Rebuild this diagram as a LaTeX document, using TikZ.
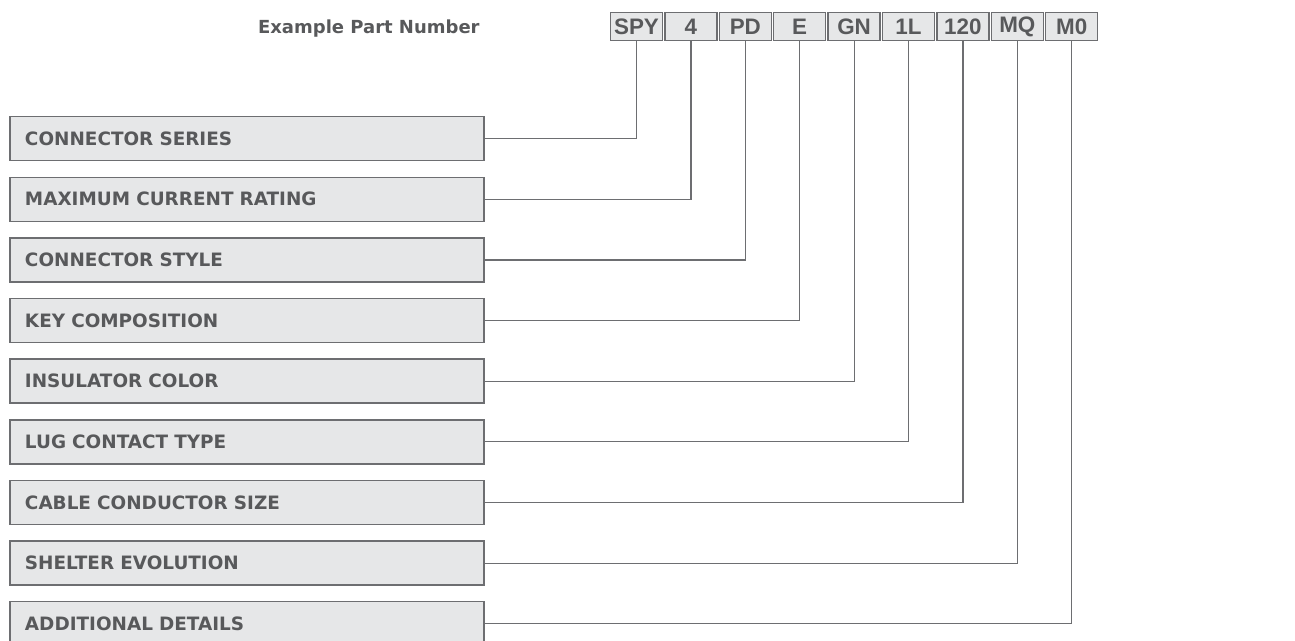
\documentclass[tikz,border=0pt]{standalone}
\usepackage{fontspec}
\setmainfont{DejaVu Sans}
\newfontfamily\codeFont{Liberation Sans}
\usepackage{tikz}
\usetikzlibrary{positioning}
\usepackage{xcolor}
\definecolor{inkGray}{HTML}{58595B}
\definecolor{boxFill}{HTML}{E6E7E8}
\definecolor{boxEdge}{HTML}{6D6E71}

\begin{document}
\begin{tikzpicture}[x=0.5pt, y=-0.5pt,
    codeBox/.style={draw=boxEdge, fill=boxFill, line width=0.75pt, minimum width=26pt, minimum height=14pt, inner sep=0pt, text=inkGray, font=\codeFont\fontsize{11.2}{13}\selectfont\bfseries},
    labelBox/.style={draw=boxEdge, fill=boxFill, line width=0.75pt, text width=222pt, minimum height=22pt, inner xsep=7.5pt, inner ysep=0pt, align=left, text=inkGray, font=\fontsize{9.2}{11}\selectfont\bfseries},
    leadLine/.style={draw=boxEdge, line width=0.6pt}
]
    \useasboundingbox (0,0) rectangle (1295,641);

    \node[anchor=east, inner sep=0pt, text=inkGray, font=\fontsize{9}{11}\selectfont\bfseries] (title) at (480, 28.5) {Example Part Number};

    % part number fields
    \node[codeBox] (codeSeries)  at (636.5, 26.5) {SPY};
    \node[codeBox] (codeCurrent) at (690.9, 26.5) {4};
    \node[codeBox] (codeStyle)   at (745.3, 26.5) {PD};
    \node[codeBox] (codeKey)     at (799.7, 26.5) {E};
    \node[codeBox] (codeColor)   at (854.1, 26.5) {GN};
    \node[codeBox] (codeLug)     at (908.5, 26.5) {1L};
    \node[codeBox] (codeCable)   at (962.9, 26.5) {120};
    \node[codeBox] (codeShelter) at (1017.3, 26.5) {MQ};
    \node[codeBox] (codeExtra)   at (1071.7, 26.5) {M0};

    % descriptions
    \node[labelBox] (lblSeries)  at (247, 138.7) {CONNECTOR SERIES};
    \node[labelBox] (lblCurrent) at (247, 199.3) {MAXIMUM CURRENT RATING};
    \node[labelBox] (lblStyle)   at (247, 259.95) {CONNECTOR STYLE};
    \node[labelBox] (lblKey)     at (247, 320.6) {KEY COMPOSITION};
    \node[labelBox] (lblColor)   at (247, 381.2) {INSULATOR COLOR};
    \node[labelBox] (lblLug)     at (247, 441.8) {LUG CONTACT TYPE};
    \node[labelBox] (lblCable)   at (247, 502.45) {CABLE CONDUCTOR SIZE};
    \node[labelBox] (lblShelter) at (247, 563.1) {SHELTER EVOLUTION};
    \node[labelBox] (lblExtra)   at (247, 623.7) {ADDITIONAL DETAILS};

    \draw[leadLine] (lblSeries.east)  -| (codeSeries.south);
    \draw[leadLine] (lblCurrent.east) -| (codeCurrent.south);
    \draw[leadLine] (lblStyle.east)   -| (codeStyle.south);
    \draw[leadLine] (lblKey.east)     -| (codeKey.south);
    \draw[leadLine] (lblColor.east)   -| (codeColor.south);
    \draw[leadLine] (lblLug.east)     -| (codeLug.south);
    \draw[leadLine] (lblCable.east)   -| (codeCable.south);
    \draw[leadLine] (lblShelter.east) -| (codeShelter.south);
    \draw[leadLine] (lblExtra.east)   -| (codeExtra.south);
\end{tikzpicture}
\end{document}
